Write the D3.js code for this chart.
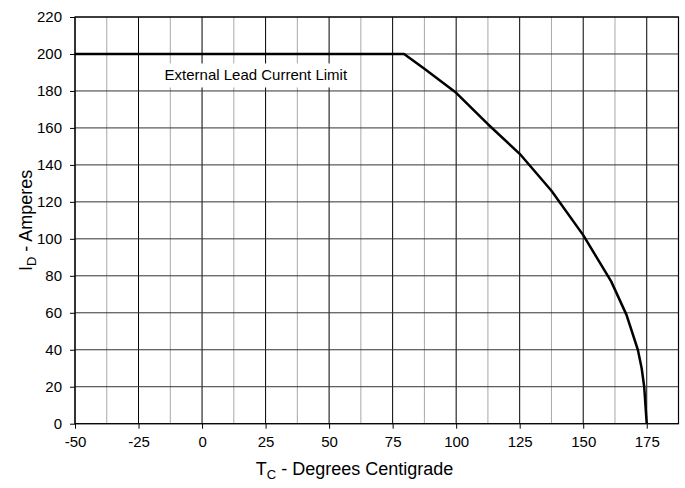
<!DOCTYPE html>
<html>
<head>
<meta charset="utf-8">
<script src="https://cdn.jsdelivr.net/npm/d3@7"></script>
<style>
  body { margin: 0; background: #fff; }
  svg { font-family: "Liberation Sans", Arial, sans-serif; }
</style>
</head>
<body>
<svg id="chart" width="685" height="488"></svg>
<script>
// Data
const tempC = [-50, 79.5, 87.5, 100, 112.5, 125, 137.5, 150, 161, 167, 171.5, 173, 174, 175];
const currentA = [200, 200, 192, 179, 162, 146, 126, 102, 77, 59, 40, 30, 20, 0];

const xTicks = [-50, -25, 0, 25, 50, 75, 100, 125, 150, 175];
const xMinor = [-37.5, -12.5, 12.5, 37.5, 62.5, 87.5, 112.5, 137.5, 162.5];
const yTicks = [0, 20, 40, 60, 80, 100, 120, 140, 160, 180, 200, 220];

const margin = { top: 17, right: 6.5, bottom: 64.3, left: 75 };
const width = 685 - margin.left - margin.right;
const height = 488 - margin.top - margin.bottom;

const svg = d3.select("#chart");
const g = svg.append("g").attr("transform", `translate(${margin.left},${margin.top})`);

const x = d3.scaleLinear().domain([-50, 187.5]).range([0, width]);
const y = d3.scaleLinear().domain([0, 220]).range([height, 0]);

// minor vertical grid
g.selectAll(".minor")
  .data(xMinor)
  .enter()
  .append("line")
  .attr("x1", (d) => x(d))
  .attr("x2", (d) => x(d))
  .attr("y1", 0)
  .attr("y2", height)
  .attr("stroke", "#a8a8a8")
  .attr("stroke-width", 1);

// major vertical grid
g.selectAll(".vmajor")
  .data(xTicks)
  .enter()
  .append("line")
  .attr("x1", (d) => x(d))
  .attr("x2", (d) => x(d))
  .attr("y1", 0)
  .attr("y2", height)
  .attr("stroke", "#000")
  .attr("stroke-width", 1);

// horizontal grid
g.selectAll(".hgrid")
  .data(yTicks)
  .enter()
  .append("line")
  .attr("x1", 0)
  .attr("x2", width)
  .attr("y1", (d) => y(d))
  .attr("y2", (d) => y(d))
  .attr("stroke", "#333")
  .attr("stroke-width", 1);

// plot border
g.append("rect")
  .attr("width", width)
  .attr("height", height)
  .attr("fill", "none")
  .attr("stroke", "#000")
  .attr("stroke-width", 1.2);

// label with white box
const label = g.append("g").attr("transform", `translate(${x(-25) + 26},${y(190) + 3})`);
label.append("rect")
  .attr("x", -5)
  .attr("y", -12)
  .attr("width", 200)
  .attr("height", 24)
  .attr("fill", "#fff");
label.append("text")
  .attr("x", 0)
  .attr("y", 5)
  .style("font-size", "15px")
  .text("External Lead Current Limit");

// curve
const line = d3.line()
  .x((d, i) => x(tempC[i]))
  .y((d) => y(d));

g.append("path")
  .datum(currentA)
  .attr("d", line)
  .attr("fill", "none")
  .attr("stroke", "#000")
  .attr("stroke-width", 2.5)
  .attr("stroke-linejoin", "round");

// axes
const fmt = (d) => String(d);
const xAxis = g.append("g")
  .attr("transform", `translate(0,${height})`)
  .call(d3.axisBottom(x).tickValues(xTicks).tickFormat(fmt).tickSize(5).tickPadding(8));
const yAxis = g.append("g")
  .call(d3.axisLeft(y).tickValues(yTicks).tickFormat(fmt).tickSize(5).tickPadding(8));

[xAxis, yAxis].forEach((a) => {
  a.select(".domain").remove();
  a.selectAll("line").attr("stroke", "#000");
  a.selectAll("text")
    .attr("fill", "#000")
    .style("font-size", "15px")
    .style("font-family", "'Liberation Sans', Arial, sans-serif");
});

// axis titles
const xt = svg.append("text")
  .attr("x", margin.left + x(60))
  .attr("y", 475)
  .attr("text-anchor", "middle")
  .style("font-size", "18px");
xt.append("tspan").text("T");
xt.append("tspan").attr("dy", 4).style("font-size", "13px").text("C");
xt.append("tspan").attr("dy", -4).text(" - Degrees Centigrade");

const yt = svg.append("text")
  .attr("transform", `translate(32,${margin.top + height / 2}) rotate(-90)`)
  .attr("text-anchor", "middle")
  .style("font-size", "18px");
yt.append("tspan").text("I");
yt.append("tspan").attr("dy", 4).style("font-size", "13px").text("D");
yt.append("tspan").attr("dy", -4).text(" - Amperes");
</script>
</body>
</html>
